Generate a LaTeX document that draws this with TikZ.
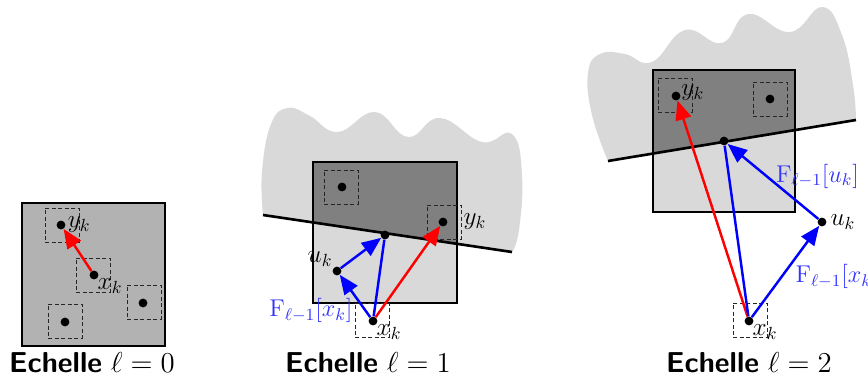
\RequirePackage{fix-cm}
\documentclass[tikz,border=0pt]{standalone}
\usepackage{amsmath,amssymb}
\usetikzlibrary{positioning,arrows.meta}

\begin{document}
\begin{tikzpicture}[x=0.02cm, y=-0.02cm,
  every node/.style={font=\fontsize{14.4}{17}\selectfont},
  titre/.style={anchor=base, font=\fontsize{16.4}{19}\selectfont},
  pt/.style={circle, fill=black, inner sep=0pt, minimum size=5pt},
  fenetre/.style={rectangle, draw=black!85, dash pattern=on 2.3pt off 1.4pt, line width=0.5pt, inner sep=0pt, minimum size=0.68cm},
  cadre/.style={line width=1.6pt},
  fleche/.style={line width=1.4pt, -{Triangle[length=11pt,width=9pt]}},
  flab/.style={text=blue!80, inner sep=1pt, font=\fontsize{13.8}{16}\selectfont}]
\useasboundingbox (0,0) rectangle (868,378);

% Echelle 0
\draw[cadre, fill=black!30] (22,203) rectangle (165,346);
\node[fenetre] (f0y) at (62,225) {};
\node[fenetre] (f0x) at (93,275) {};
\node[fenetre] (f0a) at (144,302) {};
\node[fenetre] (f0b) at (65,321) {};
\node[pt] (p0y) at (61,225) {};
\node[pt] (p0x) at (94,275) {};
\node[pt] (p0a) at (143,303) {};
\node[pt] (p0b) at (65,322) {};
\draw[fleche, red] (p0x) -- (p0y);
\node[anchor=west, inner sep=1pt] (l0y) at (p0y.east) {$y_k$};
\node[anchor=north west, inner sep=0pt] (l0x) at (p0x.south east) {$x_k$};
\node[titre] (t0) at (92,372) {{\sffamily\bfseries Echelle} $\ell = 0$};

% Echelle 1
\coordinate (l1a) at (263,215);
\coordinate (l1b) at (512,252);
\fill[black!15] plot[smooth, tension=0.75] coordinates {(263,215) (262,172) (271,124) (288,108) (310,116) (338,132) (375,112) (408,137) (440,118) (482,142) (512,134) (522,175) (519,230) (512,252)} -- cycle;
\fill[black!50] (313,162) rectangle (457,303);
\begin{scope}
  \clip (l1a) -- (l1b) -- ++(0,100) -| (l1a);
  \fill[black!15] (313,162) rectangle (457,303);
\end{scope}
\draw[cadre] (313,162) rectangle (457,303);
\draw[line width=1.5pt] (l1a) -- (l1b);
\node[fenetre] (f1a) at (341,187) {};
\node[fenetre] (f1y) at (444,222) {};
\node[fenetre] (f1x) at (372,320) {};
\node[pt] (p1a) at (342,187) {};
\node[pt] (p1y) at (443,222) {};
\node[pt] (p1m) at (385,235) {};
\node[pt] (p1u) at (337,271) {};
\node[pt] (p1x) at (373,321) {};
\draw[fleche, blue] (p1x) -- (p1u);
\draw[fleche, blue] (p1u) -- (p1m);
\draw[line width=1.4pt, blue] (p1x) -- (p1m);
\draw[fleche, red] (p1x) -- (p1y);
\node[right=0pt of f1y, inner sep=1pt] (l1y) {$y_k$};
\node[anchor=south east, inner sep=0.5pt] (l1u) at (p1u.north west) {$u_k$};
\node[anchor=north west, inner sep=0pt] (l1x) at (p1x.south east) {$x_k$};
\node[flab, left=0pt of f1x, yshift=5.5pt] (F1x) {$\mathrm{F}_{\ell-1}[x_k]$};
\node[titre] (t1) at (368,372) {{\sffamily\bfseries Echelle} $\ell = 1$};

% Echelle 2
\coordinate (l2a) at (608,161);
\coordinate (l2b) at (856,120);
\fill[black!15] plot[smooth, tension=0.75] coordinates {(608,161) (592,115) (588,73) (600,54) (625,54) (652,62) (685,30) (722,43) (748,14) (790,32) (822,7) (842,35) (853,85) (856,120)} -- cycle;
\fill[black!50] (653,70) rectangle (795,212);
\begin{scope}
  \clip (l2a) -- (l2b) -- ++(0,150) -| (l2a);
  \fill[black!15] (653,70) rectangle (795,212);
\end{scope}
\draw[cadre] (653,70) rectangle (795,212);
\draw[line width=1.5pt] (l2a) -- (l2b);
\node[fenetre] (f2y) at (675,95) {};
\node[fenetre] (f2a) at (770,99) {};
\node[fenetre] (f2x) at (750,320) {};
\node[pt] (p2y) at (676,96) {};
\node[pt] (p2a) at (770,99) {};
\node[pt] (p2m) at (724,141) {};
\node[pt] (p2u) at (822,222) {};
\node[pt] (p2x) at (749,321) {};
\draw[fleche, red] (p2x) -- (p2y);
\draw[line width=1.4pt, blue] (p2x) -- (p2m);
\draw[fleche, blue] (p2x) -- node[flab, pos=0.5, anchor=west, xshift=4pt, yshift=-3pt] (F2x) {$\mathrm{F}_{\ell-1}[x_k]$} (p2u);
\draw[fleche, blue] (p2u) -- node[flab, pos=0.5, anchor=west, yshift=3pt] (F2u) {$\mathrm{F}_{\ell-1}[u_k]$} (p2m);
\node[anchor=west, inner sep=1pt] (l2y) at (p2y.north east) {$y_k$};
\node[anchor=west, inner sep=2pt] (l2u) at (p2u.east) {$u_k$};
\node[anchor=north west, inner sep=0pt] (l2x) at (p2x.south east) {$x_k$};
\node[titre] (t2) at (749,372) {{\sffamily\bfseries Echelle} $\ell = 2$};
\end{tikzpicture}
\end{document}
